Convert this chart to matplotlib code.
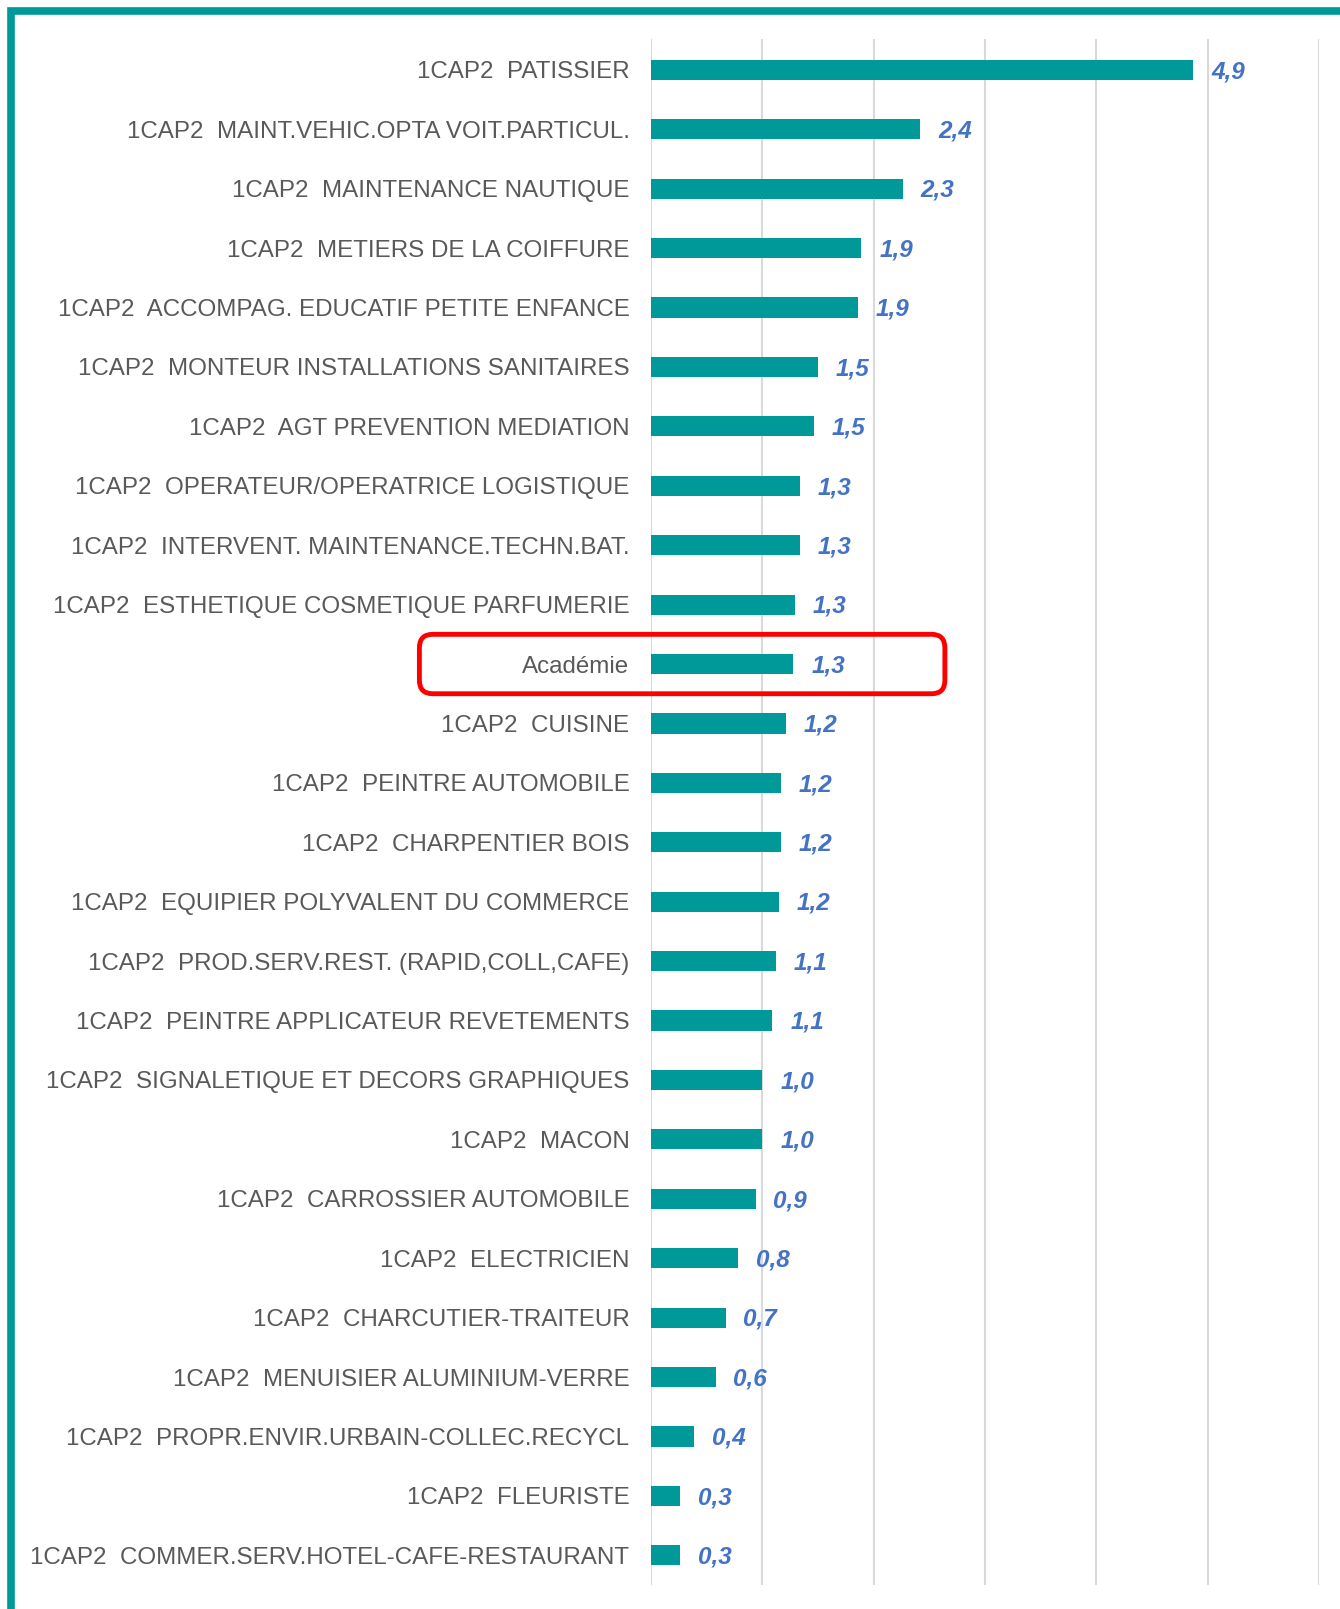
import matplotlib.pyplot as plt
from matplotlib.patches import FancyBboxPatch, Rectangle
import numpy as np

labels = [
    "1CAP2  PATISSIER",
    "1CAP2  MAINT.VEHIC.OPTA VOIT.PARTICUL.",
    "1CAP2  MAINTENANCE NAUTIQUE",
    "1CAP2  METIERS DE LA COIFFURE",
    "1CAP2  ACCOMPAG. EDUCATIF PETITE ENFANCE",
    "1CAP2  MONTEUR INSTALLATIONS SANITAIRES",
    "1CAP2  AGT PREVENTION MEDIATION",
    "1CAP2  OPERATEUR/OPERATRICE LOGISTIQUE",
    "1CAP2  INTERVENT. MAINTENANCE.TECHN.BAT.",
    "1CAP2  ESTHETIQUE COSMETIQUE PARFUMERIE",
    "Académie",
    "1CAP2  CUISINE",
    "1CAP2  PEINTRE AUTOMOBILE",
    "1CAP2  CHARPENTIER BOIS",
    "1CAP2  EQUIPIER POLYVALENT DU COMMERCE",
    "1CAP2  PROD.SERV.REST. (RAPID,COLL,CAFE)",
    "1CAP2  PEINTRE APPLICATEUR REVETEMENTS",
    "1CAP2  SIGNALETIQUE ET DECORS GRAPHIQUES",
    "1CAP2  MACON",
    "1CAP2  CARROSSIER AUTOMOBILE",
    "1CAP2  ELECTRICIEN",
    "1CAP2  CHARCUTIER-TRAITEUR",
    "1CAP2  MENUISIER ALUMINIUM-VERRE",
    "1CAP2  PROPR.ENVIR.URBAIN-COLLEC.RECYCL",
    "1CAP2  FLEURISTE",
    "1CAP2  COMMER.SERV.HOTEL-CAFE-RESTAURANT",
]
values = [4.87, 2.42, 2.26, 1.89, 1.86, 1.50, 1.46, 1.34, 1.34, 1.29,
          1.28, 1.21, 1.17, 1.17, 1.15, 1.12, 1.09, 1.00, 1.00, 0.94,
          0.78, 0.67, 0.58, 0.39, 0.26, 0.26]
value_labels = ["4,9", "2,4", "2,3", "1,9", "1,9", "1,5", "1,5", "1,3", "1,3", "1,3",
                "1,3", "1,2", "1,2", "1,2", "1,2", "1,1", "1,1", "1,0", "1,0", "0,9",
                "0,8", "0,7", "0,6", "0,4", "0,3", "0,3"]
highlight = "Académie"

teal = "#009999"

fig = plt.figure(figsize=(13.4, 16.09), dpi=100)
ax = fig.add_axes([0.4858, 0.0149, 0.4985, 0.9609])

y = np.arange(len(labels))
ax.barh(y, values, height=0.34, color=teal, zorder=3)

ax.set_xlim(0, 6)
ax.set_ylim(len(labels) - 0.5, -0.52)
ax.set_xticks(np.arange(0, 7, 1))
ax.xaxis.grid(True, color="#D9D9D9", linewidth=1.5, zorder=0)
ax.tick_params(axis="x", bottom=False, labelbottom=False)
ax.tick_params(axis="y", left=False, pad=12)
ax.set_yticks(y)
ax.set_yticklabels(labels, fontsize=17.4, color="#595959", family="Liberation Sans")
for s in ax.spines.values():
    s.set_visible(False)

for yi, v, t in zip(y, values, value_labels):
    ax.text(v + 0.16, yi + 0.03, t, va="center", ha="left", fontsize=17.5,
            fontweight="bold", fontstyle="italic", color="#4472C4",
            family="Liberation Sans")

# red box around the academy row
hi = labels.index(highlight)
box = FancyBboxPatch((-2.08, hi - 0.5), 4.72, 1.0,
                     boxstyle="round,pad=0,rounding_size=0.12",
                     fill=False, edgecolor="#FF0000", linewidth=3.5,
                     transform=ax.transData, clip_on=False, zorder=5,
                     mutation_aspect=1 / 0.53)
ax.add_patch(box)

# teal frame (left and top edges visible, rest outside the picture)
frame = Rectangle((10.5 / 1340, -0.05), 1.2, 1 - 10.5 / 1609 + 0.05,
                  transform=fig.transFigure, fill=False, edgecolor=teal,
                  linewidth=5.5, zorder=10)
fig.patches.append(frame)

fig.savefig("out.png", dpi=100)
